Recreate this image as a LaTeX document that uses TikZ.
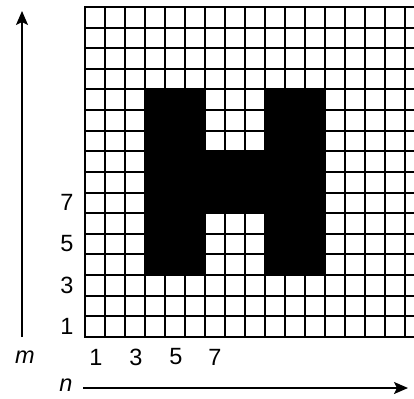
\documentclass[tikz,border=0pt]{standalone}
\usepackage{fontspec}
\setmainfont{Liberation Sans}
\usetikzlibrary{arrows.meta}
\begin{document}
\begin{tikzpicture}[x=1pt,y=-1pt,
  gridline/.style={line width=2pt,black},
  lab/.style={font=\fontsize{23.5}{24}\selectfont,inner sep=0pt,anchor=center},
  axis/.style={line width=1.8pt,-{Stealth[length=14pt,width=12pt,inset=3pt]}},
  hfill/.style={fill=black}]
\useasboundingbox (0,0) rectangle (414,398);
\def\gx{85}\def\gy{336.7}\def\cw{20}\def\ch{20.6}
% grid
\foreach \i in {0,...,16}{
  \draw[gridline] ({\gx+\i*\cw},{\gy+1}) -- ({\gx+\i*\cw},{\gy-16*\ch-1});
}
\foreach \j in {0,...,16}{
  \draw[gridline] (\gx-1,{\gy-\j*\ch}) -- (414,{\gy-\j*\ch});
}
% H
\fill[hfill] ({\gx+3*\cw},{\gy-3*\ch}) rectangle ({\gx+6*\cw},{\gy-12*\ch});
\fill[hfill] ({\gx+9*\cw},{\gy-3*\ch}) rectangle ({\gx+12*\cw},{\gy-12*\ch});
\fill[hfill] ({\gx+6*\cw-1},{\gy-6*\ch}) rectangle ({\gx+9*\cw+1},{\gy-9*\ch});
% row labels
\node[lab] (r1) at (67,{\gy-0.5*\ch}) {1};
\node[lab] (r3) at (67,{\gy-2.5*\ch}) {3};
\node[lab] (r5) at (67,{\gy-4.5*\ch}) {5};
\node[lab] (r7) at (67,{\gy-6.5*\ch}) {7};
% column labels
\node[lab] (c1) at ({\gx+0.5*\cw+1},357) {1};
\node[lab] (c3) at ({\gx+2.5*\cw+1},357) {3};
\node[lab] (c5) at ({\gx+4.5*\cw+1},357) {5};
\node[lab] (c7) at ({\gx+6.5*\cw},357) {7};
% axis labels
\node[lab] (m) at (25,357) {\itshape m};
\node[lab] (n) at (66,385) {\itshape n};
% axes
\coordinate (ma) at (22,337);
\coordinate (mb) at (22,11);
\coordinate (na) at (83,388);
\coordinate (nb) at (408,388);
\draw[axis] (ma) -- (mb);
\draw[axis] (na) -- (nb);
\end{tikzpicture}
\end{document}
